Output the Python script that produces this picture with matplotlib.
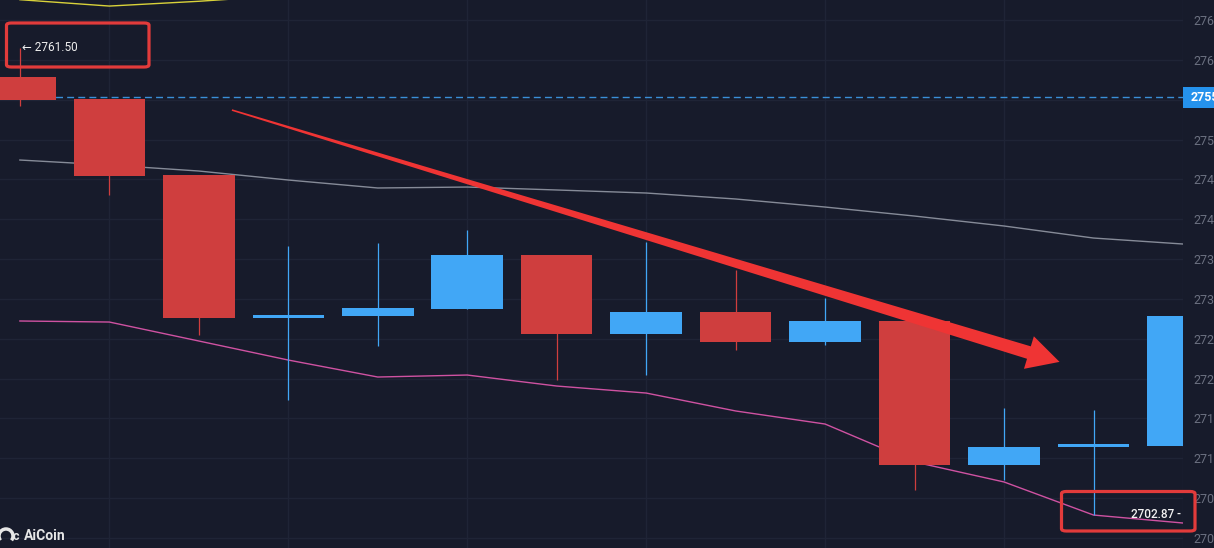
import matplotlib
matplotlib.use("Agg")
import matplotlib.pyplot as plt
import numpy as np
from matplotlib.patches import Rectangle, FancyBboxPatch, Polygon, Arc
from matplotlib.transforms import IdentityTransform

# ---------------- data ----------------
opens  = [2757.9, 2755.1, 2745.5, 2727.6, 2727.9, 2728.7, 2735.5, 2725.6, 2728.4, 2724.6, 2727.2, 2709.2, 2711.4, 2711.5]
closes = [2755.0, 2745.4, 2727.6, 2727.95, 2728.9, 2735.5, 2725.6, 2728.4, 2724.6, 2727.2, 2709.2, 2711.4, 2711.8, 2727.9]
highs  = [2761.5, 2755.1, 2745.5, 2736.6, 2737.0, 2738.7, 2735.5, 2737.1, 2733.6, 2730.1, 2727.2, 2716.3, 2716.1, 2727.9]
lows   = [2754.2, 2743.0, 2725.5, 2717.3, 2724.1, 2728.7, 2719.8, 2720.5, 2723.6, 2724.2, 2706.0, 2707.3, 2702.87, 2711.5]

ma_gray = [2747.43, 2746.80, 2746.05, 2744.92, 2743.92, 2744.04, 2743.67, 2743.29,
           2742.54, 2741.53, 2740.40, 2739.15, 2737.64, 2736.89]
ma_pink = [2727.23, 2727.10, 2724.72, 2722.33, 2720.20, 2720.45, 2719.07, 2718.19,
           2715.94, 2714.30, 2709.54, 2707.03, 2702.88, 2701.88]
ma_yellow = [2767.55, 2766.75, 2767.35, 2768.10]

price_ticks = list(range(2700, 2770, 5))
last_line_price = 2755.30
high_label = "← 2761.50"
low_label = "2702.87 -"

# arrow annotation (candle index, price)
arrow_start = (2.37, 2753.7)
arrow_tip = (11.62, 2722.1)

# ---------------- style ----------------
BG = "#171b2b"
GRID = "#1f2436"
RED = "#cf3e3e"
BLUE = "#41a7f6"
ARROW = "#ef3434"
TICK = "#6b7080"

W, H = 1214, 548
fig = plt.figure(figsize=(W / 100, H / 100), dpi=100)
fig.patch.set_facecolor(BG)
ax = fig.add_axes([0, 0, 1183 / W, 1])
ax.set_facecolor(BG)
ax.set_xlim(-0.2222, 12.922)
ax.set_ylim(2698.745, 2767.51)

for s in ax.spines.values():
    s.set_visible(False)
ax.set_yticks(price_ticks)
ax.set_yticklabels([f"{p:.2f}" for p in price_ticks], family="Roboto")
ax.yaxis.tick_right()
ax.tick_params(axis="y", length=0, pad=7.5, labelcolor=TICK, labelsize=9)
ax.set_xticks(np.arange(1, 14, 2))
ax.tick_params(axis="x", length=0, labelbottom=False)
ax.grid(True, color=GRID, lw=1, zorder=0)
ax.set_axisbelow(True)

# dashed last price line
ax.axhline(last_line_price, color="#3a8fd8", lw=1, ls=(0, (5, 3)), zorder=1)

# moving averages
x = np.arange(len(opens))
ax.plot(x, ma_gray, color="#868b98", lw=1, zorder=2)
ax.plot(x, ma_pink, color="#cf52a2", lw=1, zorder=2)
ax.plot(x[:len(ma_yellow)], ma_yellow, color="#d9d23a", lw=1, zorder=2)

# candles
for i, (o, c, h, l) in enumerate(zip(opens, closes, highs, lows)):
    col = BLUE if c >= o else RED
    ax.vlines(i, l, h, color=col, lw=0.9, zorder=3)
    bottom = min(o, c)
    height = max(abs(c - o), 0.35)
    ax.add_patch(Rectangle((i - 0.4, bottom), 0.8, height, facecolor=col,
                           edgecolor="none", zorder=4))

# red arrow (computed in display space from data coords)
S = np.array(ax.transData.transform(arrow_start))
T = np.array(ax.transData.transform(arrow_tip))
d = T - S
L = np.hypot(*d)
u = d / L
n = np.array([-u[1], u[0]])
B = T - 32 * u
pts = [S + 0.8 * n, B + 6.5 * n, B + 17 * n, T, B - 17 * n, B - 6.5 * n, S - 0.8 * n]
fig.patches.append(Polygon(pts, closed=True, facecolor=ARROW, edgecolor="none",
                           transform=IdentityTransform(), zorder=6))


def fx(px):
    return px / W


def fy(py):
    return 1 - py / H


# high / low labels
ax.annotate(high_label, xy=(0, highs[0]), xytext=(1.5, 0), textcoords="offset points",
            color="#eeeeee", fontsize=8.5, va="center", ha="left",
            family=["Roboto", "DejaVu Sans"], zorder=7)
fig.text(fx(1181), fy(515), low_label, color="#f2f2f2", fontsize=8.5, va="center",
         ha="right", family=["Roboto", "DejaVu Sans"], fontweight="medium")

# red highlight boxes
for (x0, y0, x1, y1) in [(6.5, 23, 149, 67), (1061.5, 491.5, 1195, 531)]:
    fig.patches.append(FancyBboxPatch((fx(x0), fy(y1)), fx(x1 - x0), (y1 - y0) / H,
                                      boxstyle="round,pad=0,rounding_size=0.004",
                                      facecolor="none", edgecolor="#e23b3b", lw=2.3,
                                      transform=fig.transFigure, zorder=8))

# last price tag on the axis
fig.patches.append(Rectangle((fx(1183), fy(108)), fx(40), 21 / H, facecolor="#2592ec",
                             edgecolor="none", transform=fig.transFigure, zorder=9))
fig.text(fx(1191), fy(97.5), f"{last_line_price:.2f}", color="white", fontsize=9,
         fontweight="bold", va="center", ha="left", family="Roboto", zorder=10)

# watermark
fig.text(fx(24), fy(536), "AiCoin", color="#e6e6e6", fontsize=10, fontweight="bold",
         va="center", ha="left", family="Roboto", zorder=10)
fig.patches.append(Arc((fx(6), fy(536)), 14 / W, 14 / H, theta1=-60, theta2=240,
                       color="#e6e6e6", lw=2.5, transform=fig.transFigure, zorder=10))
fig.text(fx(16), fy(537), "c", color="#e6e6e6", fontsize=9, fontweight="bold",
         va="center", ha="center", family="Roboto", zorder=10)

fig.savefig("out.png", dpi=100, facecolor=BG)
